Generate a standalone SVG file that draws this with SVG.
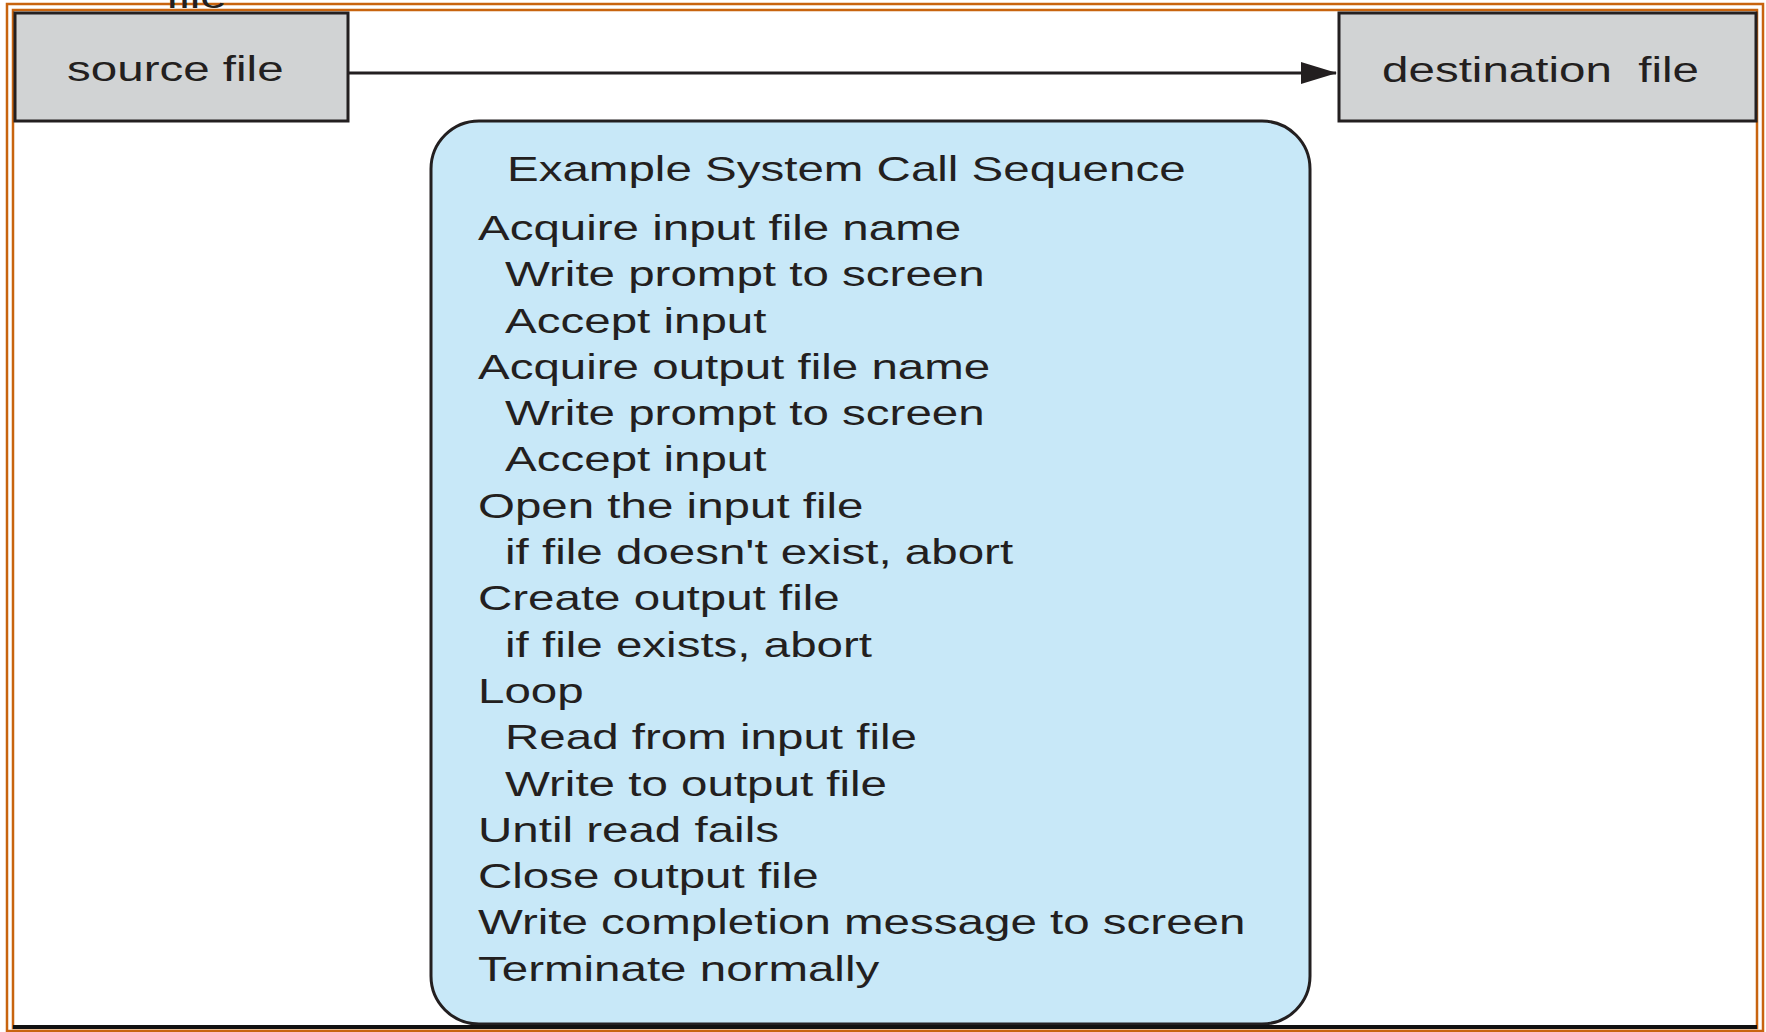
<svg xmlns="http://www.w3.org/2000/svg" width="1766" height="1032" viewBox="0 0 1766 1032">
<style>
.t{font-family:"Liberation Sans",Arial,sans-serif;font-size:36px;fill:#231f20}
.box{fill:#d1d3d4;stroke:#231f20;stroke-width:3}
.seq{fill:#c8e8f8;stroke:#231f20;stroke-width:3}
.frame{fill:none;stroke:#c8640f;stroke-width:2.5}
</style>
<defs>
<marker id="ah" markerWidth="36" markerHeight="22" refX="35" refY="11" markerUnits="userSpaceOnUse" orient="auto">
<path d="M0,0 L36,11 L0,22 Z" fill="#231f20"/>
</marker>
</defs>
<rect width="1766" height="1032" fill="#ffffff"/>
<g id="frame">
<rect class="frame" x="7" y="4" width="1756" height="1027"/>
<rect class="frame" x="13" y="10" width="1744" height="1018"/>
</g>
<text class="t" transform="scale(1.32 1)" x="125.8" y="8">file</text>
<g id="source">
<rect class="box" x="15" y="13" width="333" height="108"/>
<text class="t" transform="scale(1.32 1)" x="50.8" y="81">source file</text>
</g>
<g id="destination">
<rect class="box" x="1339" y="13" width="417" height="108"/>
<text class="t" transform="scale(1.32 1)" x="1047" y="82" xml:space="preserve">destination  file</text>
</g>
<g id="connectors">
<line x1="348" y1="73" x2="1336" y2="73" stroke="#231f20" stroke-width="3" marker-end="url(#ah)"/>
</g>
<g id="sequence">
<path class="seq" d="M479,121 H1262 A48,48 0 0 1 1310,169 V976 A48,48 0 0 1 1262,1024 H479 A48,48 0 0 1 431,976 V169 A48,48 0 0 1 479,121 Z"/>
<g class="t" transform="scale(1.32 1)">
<text class="t" x="384.1" y="181">Example System Call Sequence</text>
<text class="t" x="362.1" y="240">Acquire input file name</text>
<text class="t" x="382.6" y="286.3">Write prompt to screen</text>
<text class="t" x="382.6" y="332.6">Accept input</text>
<text class="t" x="362.1" y="378.9">Acquire output file name</text>
<text class="t" x="382.6" y="425.2">Write prompt to screen</text>
<text class="t" x="382.6" y="471.5">Accept input</text>
<text class="t" x="362.1" y="517.8">Open the input file</text>
<text class="t" x="382.6" y="564.1">if file doesn't exist, abort</text>
<text class="t" x="362.1" y="610.4">Create output file</text>
<text class="t" x="382.6" y="656.7">if file exists, abort</text>
<text class="t" x="362.1" y="703">Loop</text>
<text class="t" x="382.6" y="749.3">Read from input file</text>
<text class="t" x="382.6" y="795.6">Write to output file</text>
<text class="t" x="362.1" y="841.9">Until read fails</text>
<text class="t" x="362.1" y="888.2">Close output file</text>
<text class="t" x="362.1" y="934.5">Write completion message to screen</text>
<text class="t" x="362.1" y="980.8">Terminate normally</text>
</g>
</g>
<line x1="13" y1="1027" x2="1757" y2="1027" stroke="#111111" stroke-width="4"/>
</svg>
